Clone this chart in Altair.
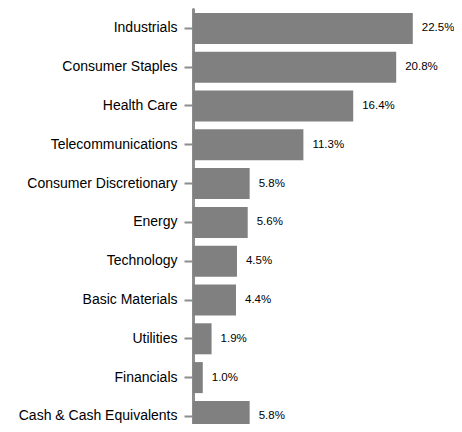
import altair as alt
import pandas as pd

sectors = ["Industrials", "Consumer Staples", "Health Care", "Telecommunications",
           "Consumer Discretionary", "Energy", "Technology", "Basic Materials",
           "Utilities", "Financials", "Cash & Cash Equivalents"]
weights = [22.5, 20.8, 16.4, 11.3, 5.8, 5.6, 4.5, 4.4, 1.9, 1.0, 5.8]
labels = ["22.5%", "20.8%", "16.4%", "11.3%", "5.8%", "5.6%", "4.5%", "4.4%", "1.9%", "1.0%", "5.8%"]

df = pd.DataFrame({"sector": sectors, "weight": weights, "label": labels})

y = alt.Y("sector:N", sort=sectors, title=None,
          scale=alt.Scale(paddingInner=0.2, paddingOuter=0.1, range=[0, 426.8]),
          axis=alt.Axis(domainColor="#8c8c8c", domainWidth=3, domainCap="round",
                        tickColor="#8c8c8c", tickWidth=2, tickSize=9,
                        labelFont="Liberation Sans", labelFontSize=14,
                        labelColor="#000000", labelPadding=7, labelLimit=300))
x = alt.X("weight:Q", title=None, scale=alt.Scale(domain=[0, 25]), axis=None)

bars = alt.Chart(df).mark_bar(color="#808080").encode(y=y, x=x)
text = alt.Chart(df).mark_text(align="left", dx=9, font="Liberation Sans",
                               fontSize=11.5, color="#000000").encode(
    y=alt.Y("sector:N", sort=sectors), x="weight:Q", text="label:N")

chart = (bars + text).properties(
    width=254, height=415,
    autosize=alt.AutoSizeParams(type="none"),
    padding={"left": 185, "top": 1, "right": 7, "bottom": 0},
).configure_view(stroke=None)

chart.save("out.html", embed_options={"renderer": "svg", "actions": False})
